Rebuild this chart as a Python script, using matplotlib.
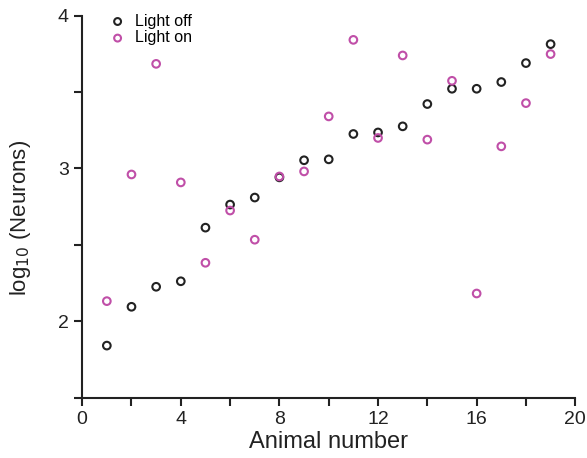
import matplotlib
matplotlib.use("Agg")
import matplotlib.pyplot as plt
from matplotlib.ticker import MultipleLocator, FixedLocator

plt.rcParams["font.family"] = ["Liberation Sans", "DejaVu Sans"]

animals = list(range(1, 20))
light_off = [1.84, 2.094, 2.225, 2.261, 2.612, 2.763, 2.809, 2.941, 3.053, 3.059,
             3.225, 3.235, 3.275, 3.421, 3.521, 3.521, 3.565, 3.689, 3.813]
light_on = [2.131, 2.96, 3.684, 2.908, 2.382, 2.724, 2.533, 2.947, 2.98, 3.34,
            3.841, 3.199, 3.739, 3.188, 3.573, 2.181, 3.144, 3.427, 3.748]

black = "#222222"
magenta = "#c04fa8"

fig = plt.figure(figsize=(5.87, 4.58), dpi=100)
ax = fig.add_axes([0.140, 0.132, 0.840, 0.834])

ax.scatter(animals, light_off, s=30, facecolors="none", edgecolors=black,
           linewidths=1.5, label="Light off", clip_on=False, zorder=3)
ax.scatter(animals, light_on, s=30, facecolors="none", edgecolors=magenta,
           linewidths=1.5, label="Light on", clip_on=False, zorder=3)

ax.set_xlim(0, 20)
ax.set_ylim(1.5, 4)
ax.spines["top"].set_visible(False)
ax.spines["right"].set_visible(False)
for s in ("left", "bottom"):
    ax.spines[s].set_linewidth(1.5)
    ax.spines[s].set_color(black)

ax.xaxis.set_major_locator(MultipleLocator(4))
ax.xaxis.set_minor_locator(MultipleLocator(2))
ax.yaxis.set_major_locator(FixedLocator([2, 3, 4]))
ax.yaxis.set_minor_locator(FixedLocator([1.5, 2.5, 3.5]))
ax.tick_params(which="both", direction="out", width=1.5, color=black,
               labelsize=14, labelcolor=black, length=6)

ax.set_xlabel("Animal number", fontsize=17, color=black, labelpad=2)
ax.set_ylabel("log$_{10}$ (Neurons)", fontsize=16, color=black)
ax.yaxis.set_label_coords(-0.100, 0.47)

ax.legend(loc="upper left", bbox_to_anchor=(0.02, 1.03), frameon=False,
          fontsize=11.5, handletextpad=0.1, borderaxespad=0.2, labelspacing=0.1,
          markerscale=0.9)

fig.savefig("out.png", dpi=100)
